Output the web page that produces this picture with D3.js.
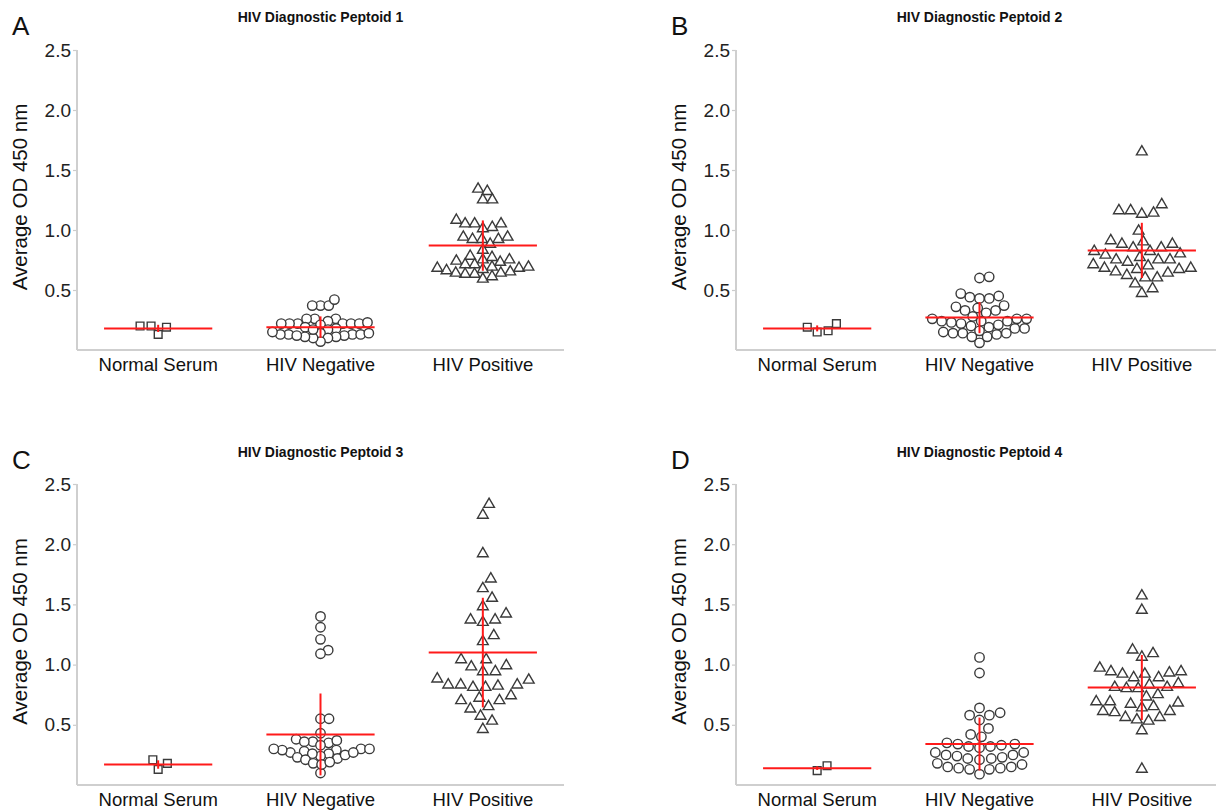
<!DOCTYPE html>
<html>
<head>
<meta charset="utf-8">
<script src="https://cdn.jsdelivr.net/npm/d3@7"></script>
<style>
  body { margin: 0; background: #fff; }
  svg { display: block; font-family: "Liberation Sans", Arial, Helvetica, sans-serif; }
</style>
</head>
<body>
<div id="container"></div>
<script>
// categories and axis ticks
let groups = ["Normal Serum", "HIV Negative", "HIV Positive"];
let yTicks = [0.5, 1.0, 1.5, 2.0, 2.5];
let panelLetters = ["A", "B", "C", "D"];
let panelTitles = ["HIV Diagnostic Peptoid 1", "HIV Diagnostic Peptoid 2",
                   "HIV Diagnostic Peptoid 3", "HIV Diagnostic Peptoid 4"];
let yLabel = "Average OD 450 nm";

// peptoid 1
let p1Normal = [0.20, 0.13, 0.19, 0.20];
let p1Negative = [0.37, 0.37, 0.37, 0.42,
  0.26, 0.26, 0.26, 0.24, 0.22, 0.22, 0.22, 0.21, 0.22, 0.22, 0.22, 0.23, 0.19, 0.18,
  0.17, 0.14, 0.13, 0.13, 0.12, 0.11, 0.10, 0.07, 0.10, 0.11, 0.12, 0.13, 0.13, 0.14, 0.15, 0.17];
let p1Positive = [1.35, 1.33, 1.26, 1.26, 1.09, 1.06, 1.06, 1.03, 1.02, 1.06,
  0.95, 0.93, 0.93, 0.89, 0.93, 0.95, 0.84, 0.79, 0.76, 0.75, 0.72, 0.72, 0.74, 0.76, 0.78,
  0.70, 0.69, 0.68, 0.66, 0.65, 0.64, 0.60, 0.62, 0.64, 0.65, 0.67, 0.69, 0.70];
let p1Mean = [0.18, 0.19, 0.87];
let p1Sd = [0.03, 0.09, 0.21];

// peptoid 2
let p2Normal = [0.19, 0.15, 0.16, 0.22];
let p2Negative = [0.60, 0.61, 0.45, 0.43, 0.43, 0.44, 0.47, 0.36, 0.33, 0.33, 0.35, 0.37,
  0.31, 0.28, 0.26, 0.26, 0.24, 0.24, 0.22, 0.20, 0.18, 0.18, 0.19, 0.21, 0.23, 0.24, 0.26,
  0.16, 0.14, 0.14, 0.11, 0.06, 0.11, 0.13, 0.14, 0.15];
let p2Positive = [1.66, 1.17, 1.15, 1.14, 1.17, 1.22, 1.00, 0.92, 0.89, 0.86, 0.83, 0.86,
  0.89, 0.91, 0.80, 0.76, 0.76, 0.72, 0.74, 0.76, 0.78, 0.81, 0.83, 0.71, 0.69, 0.68, 0.65,
  0.61, 0.61, 0.63, 0.66, 0.68, 0.69, 0.56, 0.48, 0.52];
let p2Mean = [0.18, 0.27, 0.83];
let p2Sd = [0.025, 0.13, 0.23];

// peptoid 3
let p3Normal = [0.21, 0.13, 0.18];
let p3Negative = [1.40, 1.31, 1.21, 1.12, 1.09, 0.55, 0.55, 0.43, 0.38, 0.36, 0.35, 0.33,
  0.36, 0.37, 0.30, 0.29, 0.28, 0.27, 0.26, 0.24, 0.22, 0.23, 0.25, 0.26, 0.27, 0.29, 0.30,
  0.21, 0.18, 0.10, 0.17, 0.19, 0.30];
let p3Positive = [2.34, 2.25, 1.93, 1.72, 1.64, 1.56, 1.49, 1.43, 1.38, 1.36, 1.38, 1.25,
  1.20, 1.05, 1.05, 0.99, 1.00, 0.95, 0.95, 0.89, 0.88, 0.84, 0.84, 0.82, 0.82, 0.83, 0.84,
  0.75, 0.71, 0.71, 0.73, 0.66, 0.64, 0.58, 0.54, 0.47];
let p3Mean = [0.17, 0.42, 1.10];
let p3Sd = [0.035, 0.34, 0.455];

// peptoid 4
let p4Normal = [0.12, 0.16];
let p4Negative = [1.06, 0.93, 0.64, 0.60, 0.58, 0.58, 0.54, 0.47, 0.42, 0.40, 0.35, 0.34,
  0.33, 0.32, 0.34, 0.32, 0.31, 0.27, 0.25, 0.24, 0.22, 0.21, 0.22, 0.23, 0.25, 0.27,
  0.18, 0.15, 0.14, 0.13, 0.09, 0.13, 0.14, 0.15, 0.17];
let p4Positive = [1.58, 1.46, 1.10, 1.13, 1.07, 0.95, 0.94, 0.93, 0.90, 0.90, 0.93, 0.95,
  0.98, 0.85, 0.82, 0.81, 0.81, 0.82, 0.84, 0.76, 0.74, 0.70, 0.69, 0.66, 0.62, 0.61, 0.62,
  0.65, 0.68, 0.70, 0.57, 0.54, 0.55, 0.57, 0.46, 0.14];
let p4Mean = [0.14, 0.34, 0.81];
let p4Sd = [0.015, 0.22, 0.27];

let panelValues = [
  [p1Normal, p1Negative, p1Positive],
  [p2Normal, p2Negative, p2Positive],
  [p3Normal, p3Negative, p3Positive],
  [p4Normal, p4Negative, p4Positive]
];
let panelMeans = [p1Mean, p2Mean, p3Mean, p4Mean];
let panelSds = [p1Sd, p2Sd, p3Sd, p4Sd];

let w = 1216;
let h = 812;
let svg = d3.select("#container")
  .append("svg")
    .attr("width", w)
    .attr("height", h);

// where each panel sits
let panelPos = [
  {left: 77, top: 50, bottom: 350},
  {left: 736, top: 50, bottom: 350},
  {left: 77, top: 484, bottom: 785},
  {left: 736, top: 484, bottom: 785}
];
let plotW = 487;

let symbols = [d3.symbolSquare, d3.symbolCircle, d3.symbolTriangle];
let symbolSizes = [60, 70, 50];
let dodgeDiam = [11, 11, 12.5];
let maxHalf = 49;

// simple beeswarm: each point takes the free x offset closest to the centre
function dodge(ys, diam) {
  let order = d3.range(ys.length).sort((a, b) => ys[b] - ys[a]);
  let xs = new Array(ys.length).fill(0);
  let placed = [];
  order.forEach(function(i) {
    let y = ys[i];
    let near = placed.filter(p => Math.abs(p.y - y) < diam);
    let cands = [0];
    near.forEach(function(p) {
      let dx = Math.sqrt(diam * diam - (p.y - y) * (p.y - y));
      cands.push(p.x + dx, p.x - dx);
    });
    cands.sort((a, b) => Math.abs(a) - Math.abs(b));
    let x = cands.find(c => near.every(p => (p.x - c) * (p.x - c) + (p.y - y) * (p.y - y) >= diam * diam - 0.01));
    xs[i] = x;
    placed.push({x: x, y: y});
  });
  return xs;
}

// shrink the spacing until the swarm fits inside the allowed width
function swarm(ys, diam) {
  let d = diam;
  let xs = dodge(ys, d);
  while (d3.max(xs, Math.abs) > maxHalf && d > 4) {
    d -= 0.25;
    xs = dodge(ys, d);
  }
  return xs;
}

panelPos.forEach(function(pos, pi) {
  let g = svg.append("g");

  let xScale = d3.scaleBand()
    .domain(groups)
    .range([pos.left, pos.left + plotW])
    .padding(0);
  let yScale = d3.scaleLinear()
    .domain([0, 2.5])
    .range([pos.bottom, pos.top]);

  // panel letter
  g.append("text")
    .attr("x", pos.left - 65)
    .attr("y", pos.top - 15)
    .attr("font-size", 26)
    .attr("fill", "#111")
    .text(panelLetters[pi]);

  // title
  g.append("text")
    .attr("x", pos.left + plotW / 2)
    .attr("y", pi < 2 ? 22 : 457)
    .attr("text-anchor", "middle")
    .attr("font-size", 14)
    .attr("font-weight", "bold")
    .attr("fill", "#111")
    .text(panelTitles[pi]);

  // y axis
  let yAxis = d3.axisLeft(yScale)
    .tickValues(yTicks)
    .tickFormat(d3.format(".1f"))
    .tickSize(4)
    .tickSizeOuter(0)
    .tickPadding(2);
  let yAxisGroup = g.append("g")
    .attr("transform", "translate(" + pos.left + ",0)")
    .call(yAxis);
  yAxisGroup.select(".domain").remove();
  yAxisGroup.selectAll("line").attr("stroke", "#ccc").attr("stroke-width", 1.2);
  yAxisGroup.selectAll("text")
    .attr("font-size", 19)
    .attr("fill", "#222")
    .attr("font-family", "Liberation Sans, Arial, sans-serif");

  // axis lines (light grey frame on left and bottom)
  g.append("line")
    .attr("x1", pos.left).attr("x2", pos.left)
    .attr("y1", yScale(2.5)).attr("y2", pos.bottom)
    .attr("stroke", "#cfcfcf").attr("stroke-width", 2);
  g.append("line")
    .attr("x1", pos.left).attr("x2", pos.left + plotW)
    .attr("y1", pos.bottom).attr("y2", pos.bottom)
    .attr("stroke", "#cfcfcf").attr("stroke-width", 2);

  // category labels
  let xAxis = d3.axisBottom(xScale).tickSize(0).tickPadding(0);
  let xAxisGroup = g.append("g")
    .attr("transform", "translate(0," + pos.bottom + ")")
    .call(xAxis);
  xAxisGroup.select(".domain").remove();
  xAxisGroup.selectAll("text")
    .attr("font-size", 18.5)
    .attr("fill", "#111")
    .attr("font-family", "Liberation Sans, Arial, sans-serif")
    .attr("dy", 0)
    .attr("y", 21);

  // y axis title
  g.append("text")
    .attr("transform", "translate(" + (pos.left - 50) + "," + ((pos.top + pos.bottom) / 2 - 3) + ") rotate(-90)")
    .attr("text-anchor", "middle")
    .attr("font-size", 20.5)
    .attr("fill", "#111")
    .text(yLabel);

  // points
  groups.forEach(function(grp, gi) {
    let vals = panelValues[pi][gi];
    let ys = vals.map(v => yScale(v));
    let xs = swarm(ys, dodgeDiam[gi]);
    let cx = xScale(grp) + xScale.bandwidth() / 2;
    let sym = d3.symbol().type(symbols[gi]).size(symbolSizes[gi]);
    g.append("g").selectAll("path")
      .data(vals)
      .enter()
      .append("path")
        .attr("d", sym)
        .attr("transform", (d, i) => "translate(" + (cx + xs[i]) + "," + (ys[i] + (gi == 2 ? 1 : 0)) + ")")
        .attr("fill", "white")
        .attr("stroke", "#3a3a3a")
        .attr("stroke-width", 1.4);
  });

  // mean and SD in red
  groups.forEach(function(grp, gi) {
    let cx = xScale(grp) + xScale.bandwidth() / 2;
    let half = xScale.bandwidth() / 3;
    let m = panelMeans[pi][gi];
    let s = panelSds[pi][gi];
    g.append("line")
      .attr("x1", cx - half).attr("x2", cx + half)
      .attr("y1", yScale(m)).attr("y2", yScale(m))
      .attr("stroke", "#ff1a1a").attr("stroke-width", 2);
    g.append("line")
      .attr("x1", cx).attr("x2", cx)
      .attr("y1", yScale(m - s)).attr("y2", yScale(m + s))
      .attr("stroke", "#ff1a1a").attr("stroke-width", 2);
  });
});
</script>
</body>
</html>
